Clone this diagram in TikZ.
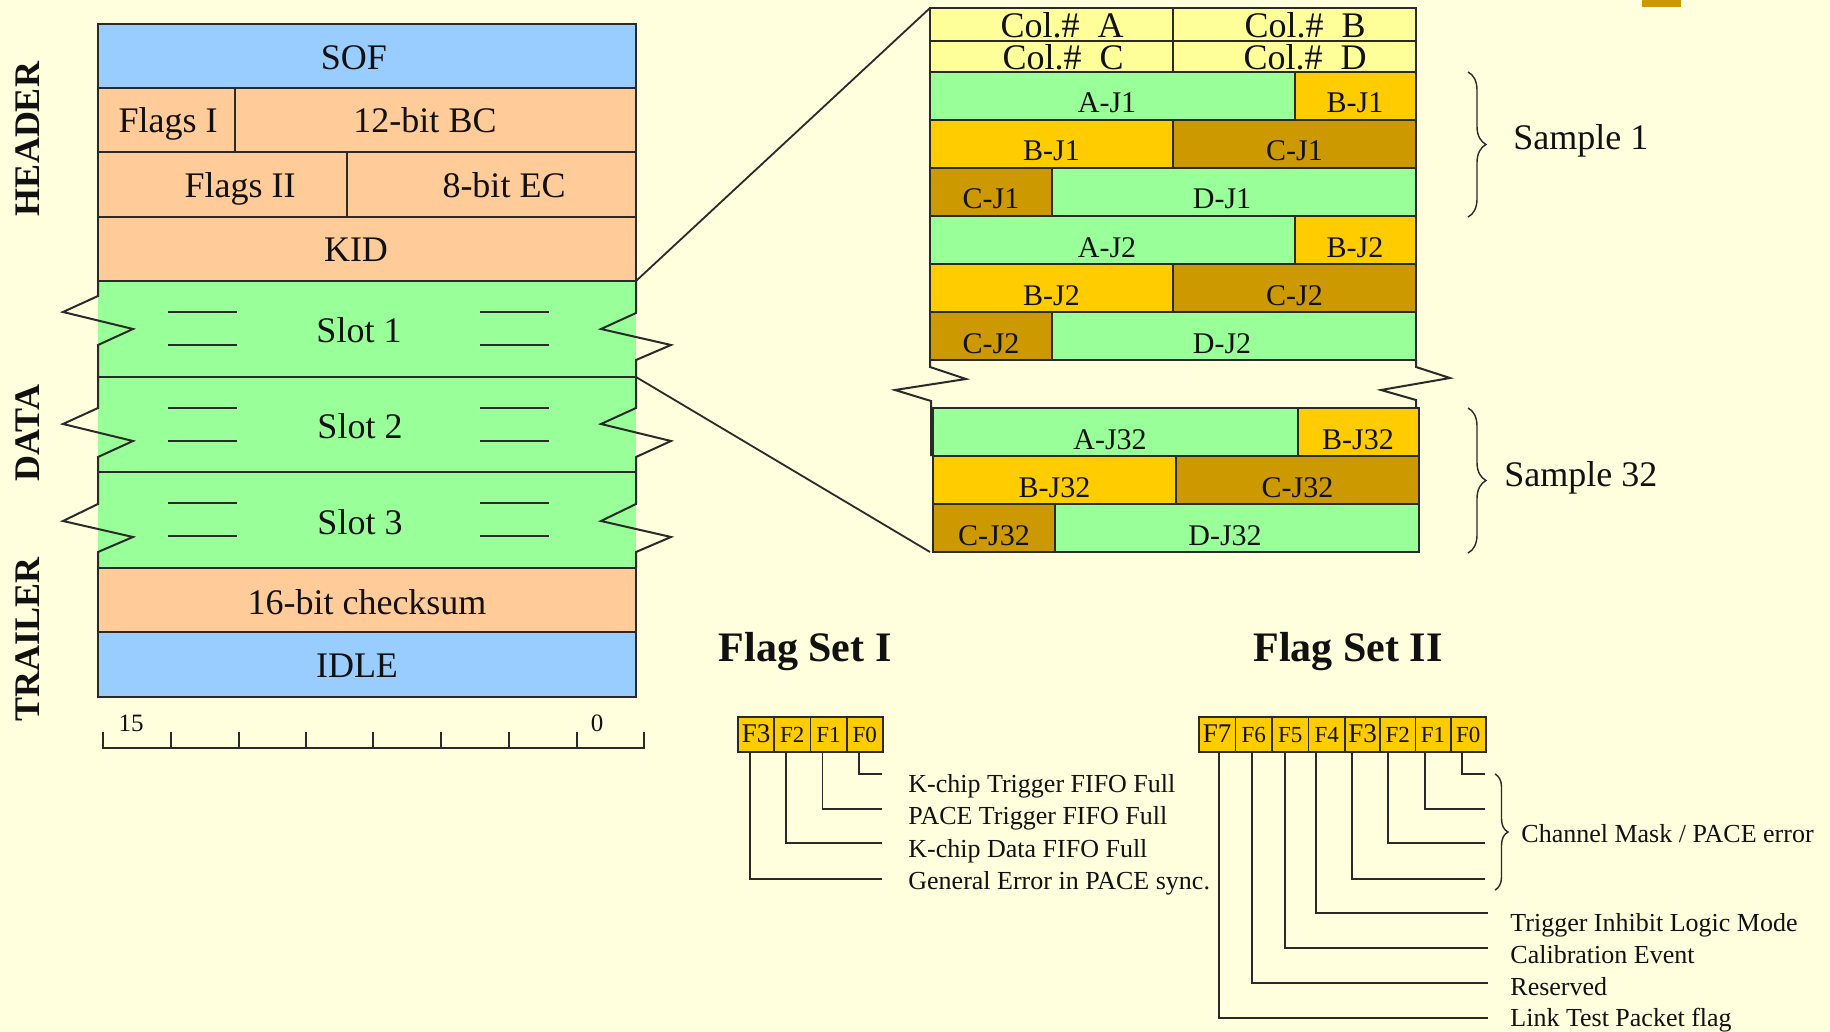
\documentclass[tikz,border=0pt]{standalone}
\usepackage{fontspec}
\setmainfont{Liberation Serif}
\usetikzlibrary{decorations.pathreplacing}
\definecolor{bgc}{HTML}{FFFFDD}
\definecolor{bluec}{HTML}{99CCFF}
\definecolor{peachc}{HTML}{FFCC99}
\definecolor{greenc}{HTML}{99FF99}
\definecolor{lyc}{HTML}{FFFF99}
\definecolor{goldc}{HTML}{FFCC00}
\definecolor{dgoldc}{HTML}{CC9900}
\definecolor{lnc}{HTML}{2A2A2A}
\definecolor{txc}{HTML}{111111}
\newcommand\myjrows[3]{%
 \begin{scope}[shift={(#1,#2)}]
  \path[xcell, fill=greenc] (0,0) rectangle (364.5,48);
  \path[xcell, fill=goldc] (364.5,0) rectangle (486,48);
  \path[xcell, fill=goldc] (0,48) rectangle (243,96);
  \path[xcell, fill=dgoldc] (243,48) rectangle (486,96);
  \path[xcell, fill=dgoldc] (0,96) rectangle (121.5,144);
  \path[xcell, fill=greenc] (121.5,96) rectangle (486,144);
  \node[xj] (a#3) at (177,41) {A-J#3};
  \node[xj] (b#3) at (425,41) {B-J#3};
  \node[xj] (bb#3) at (121.5,89) {B-J#3};
  \node[xj] (c#3) at (364.5,89) {C-J#3};
  \node[xj] (cc#3) at (61,137) {C-J#3};
  \node[xj] (d#3) at (292,137) {D-J#3};
 \end{scope}}
\begin{document}
\begin{tikzpicture}[x=0.5pt,y=-0.5pt,
  xcell/.style={draw=lnc, line width=1pt},
  xline/.style={draw=lnc, line width=0.9pt},
  xbig/.style={font=\fontsize{18}{20}\selectfont, anchor=base, inner sep=0pt, text=txc},
  xcol/.style={xbig, text height=11pt, text depth=0pt},
  xj/.style={font=\fontsize{15}{17}\selectfont, anchor=base, inner sep=0pt, text=txc},
  xside/.style={font=\bfseries\fontsize{18}{20}\selectfont, rotate=90, inner sep=0pt, text=txc},
  xsm/.style={font=\fontsize{13}{15}\selectfont, anchor=base west, inner sep=0pt, text=txc},
  xnum/.style={font=\fontsize{12.5}{14}\selectfont, anchor=base, inner sep=0pt, text=txc},
  xtitle/.style={font=\bfseries\fontsize{21}{23}\selectfont, anchor=base, inner sep=0pt, text=txc},
  xfbox/.style={draw=lnc, line width=0.9pt, fill=goldc, anchor=north west, minimum height=17.5pt, inner sep=0pt, text height=8pt, text depth=0pt, font=\fontsize{11.5}{12}\selectfont, text=txc},
  xfw/.style={xfbox, font=\fontsize{13.5}{14}\selectfont},
  xbrace/.style={draw=lnc, line width=0.7pt, decorate, decoration={brace, amplitude=#1}}
]
\path[use as bounding box, fill=bgc] (0,0) rectangle (1830,1032);
\fill[dgoldc] (1642,0) rectangle (1681,7);

% ---- left frame ----
\path[xcell, fill=bluec] (98,24) rectangle (636,88);
\path[xcell, fill=peachc] (98,88) rectangle (235,152);
\path[xcell, fill=peachc] (235,88) rectangle (636,152);
\path[xcell, fill=peachc] (98,152) rectangle (347,217);
\path[xcell, fill=peachc] (347,152) rectangle (636,217);
\path[xcell, fill=peachc] (98,217) rectangle (636,281);
\fill[greenc] (98,281) rectangle (636,568);
\draw[xcell] (98,281) -- (636,281) (98,377) -- (636,377) (98,472) -- (636,472);
\draw[xcell, line join=miter] (98,281) -- (98,296) -- (63,312) -- (133,329) -- (98,345) -- (98,408) -- (63,424) -- (133,441) -- (98,457) -- (98,504) -- (63,521) -- (133,537) -- (98,552) -- (98,568);
\draw[xcell, line join=miter] (636,281) -- (636,313) -- (601,329) -- (671,345) -- (636,360) -- (636,408) -- (601,424) -- (671,441) -- (636,457) -- (636,504) -- (601,521) -- (671,537) -- (636,552) -- (636,568);
\foreach \t in {281,377,472} {
  \draw[xcell] (168,\t+31) -- (237,\t+31) (168,\t+64) -- (237,\t+64);
  \draw[xcell] (480,\t+31) -- (549,\t+31) (480,\t+64) -- (549,\t+64);
}
\path[xcell, fill=peachc] (98,568) rectangle (636,632);
\path[xcell, fill=bluec] (98,632) rectangle (636,697);

\node[xbig] (sof) at (354,69.5) {SOF};
\node[xbig] (fl1) at (168,133) {Flags I};
\node[xbig] (bc) at (425,133) {12-bit BC};
\node[xbig] (fl2) at (240,198) {Flags II};
\node[xbig] (ec) at (504,198) {8-bit EC};
\node[xbig] (kid) at (356,262) {KID};
\node[xbig] (sl1) at (359,342) {Slot 1};
\node[xbig] (sl2) at (360,438) {Slot 2};
\node[xbig] (sl3) at (360,534) {Slot 3};
\node[xbig] (cks) at (367,614) {16-bit checksum};
\node[xbig] (idle) at (357,677) {IDLE};

\node[xside] (hdr) at (28,139) {HEADER};
\node[xside] (dat) at (28,433) {DATA};
\node[xside] (trl) at (28,639) {TRAILER};

% ruler
\draw[xline] (103,732) -- (103,748) -- (644,748) -- (644,732);
\foreach \x in {171,239,306,373,441,509,577} \draw[xline] (\x,732) -- (\x,748);
\node[xnum] (n15) at (131,731) {15};
\node[xnum] (n0) at (597,731) {0};

% ---- right block ----
\path[xcell, fill=lyc] (930,8) rectangle (1173,41);
\path[xcell, fill=lyc] (1173,8) rectangle (1416,41);
\path[xcell, fill=lyc] (930,41) rectangle (1173,72);
\path[xcell, fill=lyc] (1173,41) rectangle (1416,72);
\node[xcol] (ca) at (1062,38) {Col.\#\ \ A};
\node[xcol] (cb) at (1305,38) {Col.\#\ \ B};
\node[xcol] (cc) at (1063,70) {Col.\#\ \ C};
\node[xcol] (cd) at (1305,70) {Col.\#\ \ D};
\myjrows{930}{72}{1}
\myjrows{930}{216}{2}
\myjrows{933}{408}{32}
\draw[xcell, line join=miter] (930,360) -- (930,367) -- (966,379) -- (895,390) -- (931,401) -- (931,456);
\draw[xcell, line join=miter] (1416,360) -- (1416,367) -- (1450,378) -- (1381,390) -- (1416,400) -- (1416,408);

\draw[xbrace=9pt] (1468,72) -- (1468,217);
\draw[xbrace=9pt] (1468,408) -- (1468,553);
\node[xbig, anchor=base west] (s1) at (1513,150) {Sample 1};
\node[xbig, anchor=base west] (s32) at (1504,486) {Sample 32};

% connectors
\coordinate (kidbr) at (636,281);
\coordinate (coltl) at (930,8);
\coordinate (s2tr) at (636,377);
\coordinate (j32bl) at (930,552);
\draw[xline] (kidbr) -- (coltl);
\draw[xline] (s2tr) -- (j32bl);

% ---- Flag set I ----
\node[xtitle] (fs1) at (805,661) {Flag Set I};
\node[xfw, minimum width=18.125pt] (fa3) at (737,716) {F3};
\node[xfbox, minimum width=18.125pt] (fa2) at (773.25,716) {F2};
\node[xfbox, minimum width=18.125pt] (fa1) at (809.5,716) {F1};
\node[xfbox, minimum width=18.125pt] (fa0) at (845.75,716) {F0};
\coordinate (ea0) at (882,774);
\coordinate (ea1) at (882,809);
\coordinate (ea2) at (882,843);
\coordinate (ea3) at (882,879);
\draw[xline] ([xshift=-3pt]fa0.south) |- (ea0);
\draw[xline] ([xshift=-3pt]fa1.south) |- (ea1);
\draw[xline] ([xshift=-3pt]fa2.south) |- (ea2);
\draw[xline] ([xshift=-3pt]fa3.south) |- (ea3);
\node[xsm] (la0) at (908,792) {K-chip Trigger FIFO Full};
\node[xsm] (la1) at (908,824) {PACE Trigger FIFO Full};
\node[xsm] (la2) at (908,857) {K-chip Data FIFO Full};
\node[xsm] (la3) at (908,889) {General Error in PACE sync.};

% ---- Flag set II ----
\node[xtitle] (fs2) at (1348,661) {Flag Set II};
\node[xfw, minimum width=18.25pt] (fb7) at (1198,716) {F7};
\node[xfbox, minimum width=18.25pt] (fb6) at (1234.5,716) {F6};
\node[xfbox, minimum width=18.25pt] (fb5) at (1271,716) {F5};
\node[xfbox, minimum width=18.25pt] (fb4) at (1307.5,716) {F4};
\node[xfw, minimum width=17.625pt] (fb3) at (1344,716) {F3};
\node[xfbox, minimum width=17.625pt] (fb2) at (1379.25,716) {F2};
\node[xfbox, minimum width=17.625pt] (fb1) at (1414.5,716) {F1};
\node[xfbox, minimum width=17.625pt] (fb0) at (1449.75,716) {F0};
\coordinate (eb0) at (1485,774);
\coordinate (eb1) at (1485,809);
\coordinate (eb2) at (1485,843);
\coordinate (eb3) at (1485,879);
\coordinate (eb4) at (1488,913);
\coordinate (eb5) at (1488,948);
\coordinate (eb6) at (1488,983);
\coordinate (eb7) at (1488,1018);
\draw[xline] ([xshift=-3.2pt]fb0.south) |- (eb0);
\draw[xline] ([xshift=-4pt]fb1.south) |- (eb1);
\draw[xline] ([xshift=-5pt]fb2.south) |- (eb2);
\draw[xline] ([xshift=-5.3pt]fb3.south) |- (eb3);
\draw[xline] ([xshift=-5.4pt]fb4.south) |- (eb4);
\draw[xline] ([xshift=-2.6pt]fb5.south) |- (eb5);
\draw[xline] ([xshift=-0.9pt]fb6.south) |- (eb6);
\draw[xline] ([xshift=0.9pt]fb7.south) |- (eb7);
\draw[xbrace=6.5pt] (1495,774) -- (1495,890);
\node[xsm] (lcm) at (1521,842) {Channel Mask / PACE error};
\node[xsm] (ltil) at (1510,931) {Trigger Inhibit Logic Mode};
\node[xsm] (lcal) at (1510,963) {Calibration Event};
\node[xsm] (lres) at (1510,995) {Reserved};
\node[xsm] (llt) at (1510,1026) {Link Test Packet flag};
\end{tikzpicture}
\end{document}
